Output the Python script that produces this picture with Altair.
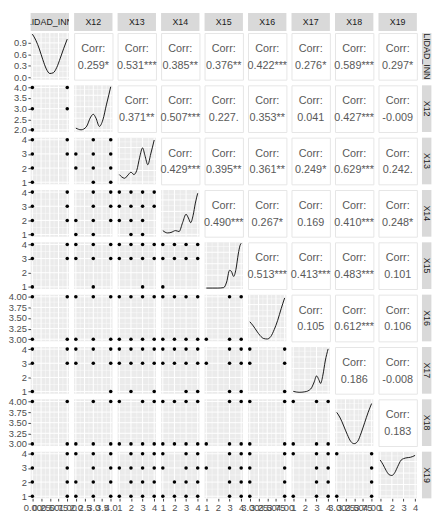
import altair as alt
import pandas as pd

# ---------------- data ----------------
# first name is shown cut by its strip in the picture; the visible part is used
var_names = ["LIDAD_INN", "X12", "X13", "X14", "X15", "X16", "X17", "X18", "X19"]
var_lo = [0, 2, 1, 1, 1, 3, 1, 3, 1]
var_hi = [1, 4, 4, 4, 4, 4, 4, 4, 4]
var_breaks = [
    [0, 0.25, 0.5, 0.75, 1.0],
    [2.0, 2.5, 3.0, 3.5, 4.0],
    [1, 2, 3, 4],
    [1, 2, 3, 4],
    [1, 2, 3, 4],
    [3.0, 3.25, 3.5, 3.75, 4.0],
    [1, 2, 3, 4],
    [3.0, 3.25, 3.5, 3.75, 4.0],
    [1, 2, 3, 4],
]
var_fmt = [".2f", ".1f", "d", "d", "d", ".2f", "d", ".2f", "d"]

# upper triangle correlation labels (row, col)
corr_labels = {
    (0, 1): "0.259*", (0, 2): "0.531***", (0, 3): "0.385**", (0, 4): "0.376**",
    (0, 5): "0.422***", (0, 6): "0.276*", (0, 7): "0.589***", (0, 8): "0.297*",
    (1, 2): "0.371**", (1, 3): "0.507***", (1, 4): "0.227.", (1, 5): "0.353**",
    (1, 6): "0.041", (1, 7): "0.427***", (1, 8): "-0.009",
    (2, 3): "0.429***", (2, 4): "0.395**", (2, 5): "0.361**", (2, 6): "0.249*",
    (2, 7): "0.629***", (2, 8): "0.242.",
    (3, 4): "0.490***", (3, 5): "0.267*", (3, 6): "0.169", (3, 7): "0.410***", (3, 8): "0.248*",
    (4, 5): "0.513***", (4, 6): "0.413***", (4, 7): "0.483***", (4, 8): "0.101",
    (5, 6): "0.105", (5, 7): "0.612***", (5, 8): "0.106",
    (6, 7): "0.186", (6, 8): "-0.008",
    (7, 8): "0.183",
}

# diagonal density curves: x in variable units, y as share of panel height
dens_x = [
    [0, 0.1, 0.2, 0.3, 0.4, 0.5, 0.6, 0.7, 0.8, 0.9, 1.0],
    [2.0, 2.3, 2.6, 2.85, 3.0, 3.15, 3.35, 3.55, 3.75, 3.9, 4.0],
    [1.0, 1.2, 1.45, 1.75, 2.0, 2.25, 2.5, 2.75, 3.0, 3.2, 3.45, 3.7, 4.0],
    [1.0, 1.4, 1.7, 2.1, 2.4, 2.7, 3.0, 3.2, 3.4, 3.6, 3.8, 4.0],
    [1.0, 1.5, 2.0, 2.5, 2.75, 3.0, 3.15, 3.35, 3.55, 3.75, 3.9, 4.0],
    [3.0, 3.1, 3.2, 3.3, 3.4, 3.5, 3.6, 3.7, 3.8, 3.9, 4.0],
    [1.0, 1.5, 2.0, 2.5, 2.8, 3.0, 3.2, 3.35, 3.55, 3.75, 4.0],
    [3.0, 3.1, 3.2, 3.3, 3.4, 3.5, 3.6, 3.7, 3.8, 3.9, 4.0],
    [1.0, 1.25, 1.5, 1.75, 2.0, 2.25, 2.5, 2.8, 3.0, 3.3, 3.6, 4.0],
]
dens_y = [
    [0.975, 0.844, 0.656, 0.427, 0.23, 0.132, 0.148, 0.263, 0.46, 0.672, 0.869],
    [0.083, 0.047, 0.11, 0.32, 0.38, 0.30, 0.12, 0.26, 0.58, 0.81, 0.97],
    [0.21, 0.16, 0.13, 0.2, 0.26, 0.21, 0.3, 0.58, 0.78, 0.62, 0.42, 0.65, 0.95],
    [0.13, 0.08, 0.09, 0.13, 0.11, 0.3, 0.48, 0.4, 0.3, 0.45, 0.72, 0.93],
    [0.02, 0.02, 0.02, 0.03, 0.15, 0.4, 0.38, 0.27, 0.42, 0.75, 0.93, 0.98],
    [0.42, 0.33, 0.22, 0.12, 0.06, 0.05, 0.1, 0.25, 0.45, 0.7, 0.93],
    [0.05, 0.03, 0.04, 0.1, 0.25, 0.38, 0.3, 0.22, 0.4, 0.7, 0.96],
    [0.72, 0.6, 0.43, 0.25, 0.1, 0.05, 0.1, 0.28, 0.5, 0.72, 0.91],
    [0.82, 0.72, 0.6, 0.51, 0.49, 0.55, 0.68, 0.82, 0.85, 0.87, 0.88, 0.92],
]

# lower triangle scatter points (row, col): list of (x, y)
scatter_pts = {
    (1, 0): [(0, 2), (0, 3), (0, 4), (1, 3), (1, 4)],
    (2, 0): [(0, 1), (0, 2), (0, 3), (0, 4), (1, 3), (1, 4)],
    (2, 1): [(2, 2), (2, 3), (3, 1), (3, 2), (3, 3), (3, 4), (4, 1), (4, 2), (4, 3), (4, 4)],
    (3, 0): [(0, 1), (0, 2), (0, 3), (0, 4), (1, 2), (1, 3), (1, 4)],
    (3, 1): [(2, 1), (2, 2), (3, 1), (3, 2), (3, 3), (3, 4), (4, 2), (4, 3), (4, 4)],
    (3, 2): [(1, 2), (1, 3), (1, 4), (2, 1), (2, 2), (2, 3), (2, 4), (3, 1), (3, 2), (3, 3),
             (3, 4), (4, 3), (4, 4)],
    (4, 0): [(0, 1), (0, 3), (0, 4), (1, 3), (1, 4)],
    (4, 1): [(2, 3), (2, 4), (3, 1), (3, 3), (3, 4), (4, 3), (4, 4)],
    (4, 2): [(1, 3), (1, 4), (2, 3), (2, 4), (3, 1), (3, 3), (3, 4), (4, 3), (4, 4)],
    (4, 3): [(1, 1), (1, 3), (1, 4), (2, 3), (2, 4), (3, 3), (3, 4), (4, 3), (4, 4)],
    (5, 0): [(0, 3), (0, 4), (1, 3), (1, 4)],
    (5, 1): [(2, 3), (2, 4), (3, 3), (3, 4), (4, 3), (4, 4)],
    (5, 2): [(1, 3), (1, 4), (2, 3), (2, 4), (3, 3), (3, 4), (4, 3), (4, 4)],
    (5, 3): [(1, 3), (1, 4), (2, 3), (2, 4), (3, 3), (3, 4), (4, 3), (4, 4)],
    (5, 4): [(1, 3), (3, 3), (3, 4), (4, 3), (4, 4)],
    (6, 0): [(0, 1), (0, 3), (0, 4), (1, 3), (1, 4)],
    (6, 1): [(2, 3), (2, 4), (3, 3), (3, 4), (4, 1), (4, 3), (4, 4)],
    (6, 2): [(1, 3), (1, 4), (2, 1), (2, 3), (2, 4), (3, 3), (3, 4), (4, 1), (4, 3), (4, 4)],
    (6, 3): [(1, 3), (1, 4), (2, 3), (2, 4), (3, 1), (3, 3), (3, 4), (4, 1), (4, 3), (4, 4)],
    (6, 4): [(1, 3), (3, 1), (3, 3), (3, 4), (4, 1), (4, 3), (4, 4)],
    (6, 5): [(3, 3), (3, 4), (4, 1), (4, 3), (4, 4)],
    (7, 0): [(0, 3), (0, 4), (1, 3), (1, 4)],
    (7, 1): [(2, 3), (3, 3), (3, 4), (4, 3), (4, 4)],
    (7, 2): [(1, 3), (1, 4), (2, 3), (3, 3), (3, 4), (4, 3), (4, 4)],
    (7, 3): [(1, 3), (1, 4), (2, 3), (2, 4), (3, 3), (3, 4), (4, 3), (4, 4)],
    (7, 4): [(1, 3), (3, 3), (3, 4), (4, 3), (4, 4)],
    (7, 5): [(3, 3), (3, 4), (4, 3), (4, 4)],
    (7, 6): [(1, 3), (1, 4), (3, 3), (3, 4), (4, 3), (4, 4)],
    (8, 0): [(0, 1), (0, 2), (0, 3), (0, 4), (1, 1), (1, 2), (1, 3), (1, 4)],
    (8, 1): [(2, 1), (2, 2), (2, 4), (3, 1), (3, 2), (3, 3), (3, 4), (4, 1), (4, 2), (4, 3), (4, 4)],
    (8, 2): [(1, 1), (1, 3), (2, 1), (2, 2), (2, 3), (2, 4), (3, 1), (3, 2), (3, 3), (3, 4),
             (4, 1), (4, 2), (4, 3), (4, 4)],
    (8, 3): [(1, 1), (1, 3), (1, 4), (2, 1), (2, 2), (3, 1), (3, 2), (3, 3), (3, 4),
             (4, 1), (4, 2), (4, 3), (4, 4)],
    (8, 4): [(1, 3), (3, 1), (3, 2), (3, 3), (3, 4), (4, 1), (4, 2), (4, 3), (4, 4)],
    (8, 5): [(3, 1), (3, 2), (3, 3), (3, 4), (4, 1), (4, 2), (4, 3), (4, 4)],
    (8, 6): [(1, 1), (1, 4), (3, 1), (3, 2), (3, 3), (3, 4), (4, 1), (4, 2), (4, 3), (4, 4)],
    (8, 7): [(3, 1), (3, 4), (4, 1), (4, 2), (4, 3), (4, 4)],
}

# row-1 (density) y axis labels
diag0_labels = [0.0, 0.3, 0.6, 0.9]

# ---------------- styling / layout ----------------
FONT = "Liberation Sans"
SP = 5.2            # gap between panels
W, H = 39.0, 47.45  # panel size
H0 = 15             # top strip row (strip drawn 18.3 px tall)
STRIP_H = 18.3
W9 = 9.6            # right strip column
BG = "#EBEBEB"
N = len(var_names)


def domain(k):
    r = var_hi[k] - var_lo[k]
    return [var_lo[k] - 0.05 * r, var_hi[k] + 0.05 * r]


def minors(b):
    return [(b[i] + b[i + 1]) / 2 for i in range(len(b) - 1)]


def axis(values, fmt=None, label_expr=None):
    kw = dict(values=values, title=None, grid=False, domain=False, ticks=True,
              tickSize=2.75, tickColor="#333333", tickWidth=0.9,
              labelFontSize=9.5, labelFont=FONT, labelColor="#4D4D4D",
              labelPadding=1.5, labelOverlap=False, labelFlush=False, labelBound=False)
    if fmt:
        kw["format"] = fmt
    if label_expr:
        kw["labelExpr"] = label_expr
    return alt.Axis(**kw)


diag_major = [0.05 + 0.819 * v for v in diag0_labels]
diag_minor = minors(diag_major) + [diag_major[-1] + (diag_major[1] - diag_major[0]) / 2]


def grid_panel(i, j, content):
    xs = alt.Scale(domain=domain(j), nice=False, zero=False)
    xax = axis(var_breaks[j], var_fmt[j]) if i == N - 1 else None
    if i == j:
        ys = alt.Scale(domain=[0, 1], nice=False, zero=False)
        yb, ym = diag_major, diag_minor
        if j == 0:
            yax = axis(diag_major, label_expr="format((datum.value-0.05)/0.819,'.1f')")
        else:
            yax = None
    else:
        ys = alt.Scale(domain=domain(i), nice=False, zero=False)
        yb, ym = var_breaks[i], minors(var_breaks[i])
        yax = axis(var_breaks[i], var_fmt[i]) if j == 0 else None
    X = alt.X("x:Q", scale=xs, axis=xax)
    Y = alt.Y("y:Q", scale=ys, axis=yax)
    xb = var_breaks[j]
    xm = minors(xb)
    vg = pd.DataFrame({"x": list(xb) + xm, "w": [1.0] * len(xb) + [0.45] * len(xm)})
    hg = pd.DataFrame({"y": list(yb) + ym, "w": [1.0] * len(yb) + [0.45] * len(ym)})
    vrule = alt.Chart(vg).mark_rule(color="white").encode(
        x=X, strokeWidth=alt.StrokeWidth("w:Q", scale=None, legend=None))
    hrule = alt.Chart(hg).mark_rule(color="white").encode(
        y=Y, strokeWidth=alt.StrokeWidth("w:Q", scale=None, legend=None))
    layers = [vrule, hrule] + [c.encode(x=X, y=Y) for c in content]
    return alt.layer(*layers).properties(
        width=W, height=H, view=alt.ViewBackground(fill=BG, stroke=None))


def diag_cell(k):
    d = pd.DataFrame({"x": dens_x[k], "y": dens_y[k]})
    line = alt.Chart(d).mark_line(color="black", strokeWidth=0.9, interpolate="monotone")
    return grid_panel(k, k, [line])


def lower_cell(i, j):
    pts = scatter_pts.get((i, j), [])
    d = pd.DataFrame({"x": [p[0] for p in pts], "y": [p[1] for p in pts]})
    dots = alt.Chart(d).mark_circle(color="black", size=13, opacity=1)
    return grid_panel(i, j, [dots])


def upper_cell(i, j):
    d = pd.DataFrame({"a": ["Corr:"], "b": [corr_labels[(i, j)]]})
    base = alt.Chart(d)
    t1 = base.mark_text(font=FONT, fontSize=11, color="#595959", baseline="middle").encode(
        x=alt.value(W / 2), y=alt.value(H / 2 - 7.5), text="a:N")
    t2 = base.mark_text(font=FONT, fontSize=11, color="#595959", baseline="middle").encode(
        x=alt.value(W / 2), y=alt.value(H / 2 + 9.5), text="b:N")
    return alt.layer(t1, t2).properties(
        width=W, height=H, view=alt.ViewBackground(fill="white", stroke="#E6E6E6"))


def top_strip(k):
    d = pd.DataFrame({"t": [var_names[k]]})
    base = alt.Chart(d)
    rect = base.mark_rect(color="#D9D9D9").encode(
        x=alt.value(0), x2=alt.value(W), y=alt.value(0), y2=alt.value(STRIP_H))
    txt = base.mark_text(font=FONT, fontSize=9, color="#1A1A1A", baseline="middle",
                         clip=True).encode(x=alt.value(W / 2), y=alt.value(STRIP_H / 2),
                                           text="t:N")
    return alt.layer(rect, txt).properties(
        width=W, height=H0, view=alt.ViewBackground(stroke=None))


def right_strip(k):
    d = pd.DataFrame({"t": [var_names[k]]})
    base = alt.Chart(d)
    rect = base.mark_rect(color="#D9D9D9").encode(
        x=alt.value(0), x2=alt.value(W9), y=alt.value(0), y2=alt.value(H))
    txt = base.mark_text(font=FONT, fontSize=9, color="#1A1A1A", baseline="middle",
                         angle=90, clip=True).encode(
        x=alt.value(W9 / 2), y=alt.value(H / 2), text="t:N")
    return alt.layer(rect, txt).properties(
        width=W9, height=H, view=alt.ViewBackground(stroke=None))


def empty_cell():
    d = pd.DataFrame({"a": [0]})
    return alt.Chart(d).mark_point(opacity=0, size=1).encode(
        x=alt.value(0), y=alt.value(0)).properties(
        width=W9, height=H0, view=alt.ViewBackground(stroke=None))


cells = []
for k in range(N):
    cells.append(top_strip(k))
cells.append(empty_cell())
for i in range(N):
    for j in range(N):
        if i == j:
            cells.append(diag_cell(i))
        elif j < i:
            cells.append(lower_cell(i, j))
        else:
            cells.append(upper_cell(i, j))
    cells.append(right_strip(i))

chart = alt.concat(*cells, columns=N + 1, spacing=SP, bounds="flush", align="each").properties(
    padding={"left": 0, "top": 0, "right": 0, "bottom": 0}
).configure_view(stroke=None)

chart.save("out.html", embed_options={"renderer": "svg", "actions": False})
